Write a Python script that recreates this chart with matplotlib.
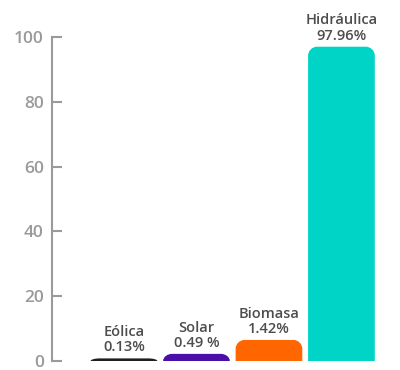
import matplotlib
matplotlib.use("Agg")
import matplotlib.pyplot as plt
from matplotlib.path import Path
from matplotlib.patches import PathPatch

categories = ["Eólica", "Solar", "Biomasa", "Hidráulica"]
percent_labels = ["0.13%", "0.49 %", "1.42%", "97.96%"]
bar_heights = [0.8, 2.2, 6.5, 97.0]  # visual heights
colors = ["#1f1f1f", "#4a0fa8", "#ff6600", "#00d4c6"]
yticks = [0, 20, 40, 60, 80, 100]

plt.rcParams['font.family'] = ['Open Sans', 'DejaVu Sans']

W, H, DPI = 400, 370, 100
fig = plt.figure(figsize=(W / DPI, H / DPI), dpi=DPI)
ax_left, ax_right, ax_bottom, ax_top = 52, 390, 361, 37
ax = fig.add_axes([ax_left / W, 1 - ax_bottom / H, (ax_right - ax_left) / W, (ax_bottom - ax_top) / H])
xlim = (-0.993, 3.67)
ax.set_xlim(*xlim)
ax.set_ylim(0, 100)

xs = list(range(len(categories)))
width = 0.92
bars = ax.bar(xs, bar_heights, width=width, color=colors)

# rounded top corners
px_x = (ax_right - ax_left) / (xlim[1] - xlim[0])
px_y = (ax_bottom - ax_top) / 100.0
r_px = 9
for b, c in zip(bars, colors):
    x0, w, h = b.get_x(), b.get_width(), b.get_height()
    rx = r_px / px_x
    ry = min(r_px / px_y, h)
    k = 0.5523
    x1 = x0 + w
    verts = [(x0, 0), (x0, h - ry),
             (x0, h - ry + k * ry), (x0 + rx - k * rx, h), (x0 + rx, h),
             (x1 - rx, h),
             (x1 - rx + k * rx, h), (x1, h - ry + k * ry), (x1, h - ry),
             (x1, 0), (x0, 0)]
    codes = [Path.MOVETO, Path.LINETO,
             Path.CURVE4, Path.CURVE4, Path.CURVE4,
             Path.LINETO,
             Path.CURVE4, Path.CURVE4, Path.CURVE4,
             Path.LINETO, Path.CLOSEPOLY]
    b.set_visible(False)
    ax.add_patch(PathPatch(Path(verts, codes), facecolor=c, edgecolor='none'))

for x, h, name, pl in zip(xs, bar_heights, categories, percent_labels):
    ax.annotate(f"{name}\n{pl}", (x, h), xytext=(0, 3), textcoords="offset points",
                ha="center", va="bottom", fontsize=10.5, color="#4d4d4d",
                fontweight="semibold", linespacing=1.1)

for s in ["top", "right", "bottom"]:
    ax.spines[s].set_visible(False)
ax.spines["left"].set_color("#9a9a9a")
ax.spines["left"].set_linewidth(1.5)
ax.set_yticks(yticks)
ax.set_yticklabels([str(t) for t in yticks])
ax.tick_params(axis="y", direction="in", length=7, width=1.5, color="#9a9a9a",
               labelcolor="#9a9a9a", labelsize=12.5, pad=6)
for lab in ax.get_yticklabels():
    lab.set_fontweight("semibold")
ax.set_xticks([])

fig.savefig("out.png", dpi=DPI, facecolor="white")
